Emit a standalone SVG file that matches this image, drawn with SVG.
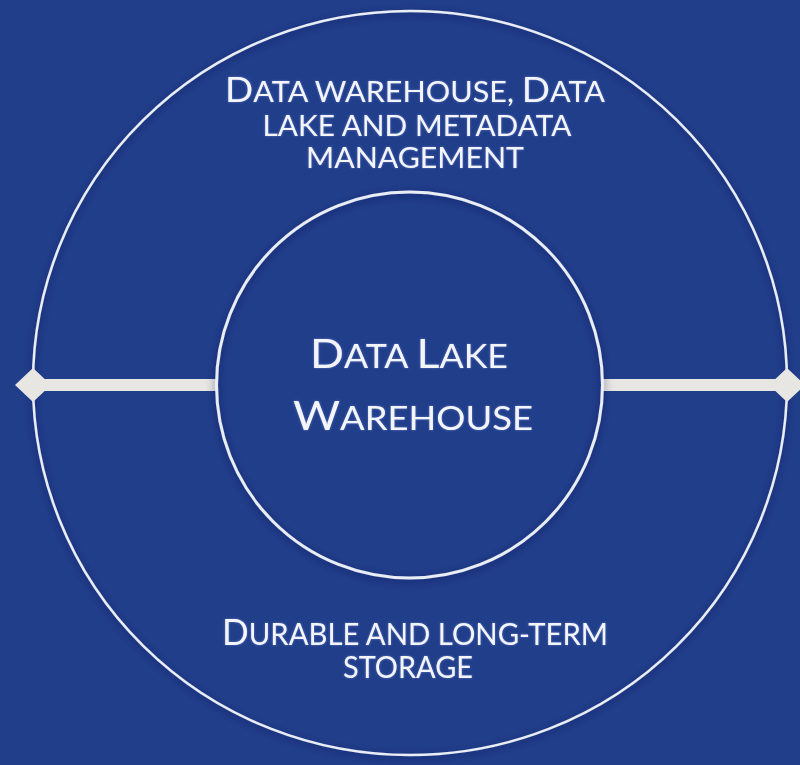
<svg xmlns="http://www.w3.org/2000/svg" width="800" height="765" viewBox="0 0 800 765">
  <style>
    .lbl { font-family: "Lato", "Open Sans", "Liberation Sans", sans-serif; fill: #f3f5fb; text-anchor: middle; }
    .ring { fill: none; stroke: #e9edf6; }
    .bar { fill: #e8e6e3; }
  </style>
  <defs>
    <filter id="shadow" x="-10%" y="-10%" width="120%" height="120%">
      <feGaussianBlur in="SourceAlpha" stdDeviation="4"/>
      <feOffset dx="0" dy="2" result="b"/>
      <feFlood flood-color="#0a1840" flood-opacity="0.6"/>
      <feComposite in2="b" operator="in"/>
      <feMerge><feMergeNode/><feMergeNode in="SourceGraphic"/></feMerge>
    </filter>
    <filter id="glow" x="-5%" y="-20%" width="110%" height="140%">
      <feGaussianBlur in="SourceAlpha" stdDeviation="1.2"/>
      <feFlood flood-color="#9fb6ff" flood-opacity="0.5"/>
      <feComposite operator="in" in2="SourceAlpha"/>
      <feGaussianBlur stdDeviation="1"/>
      <feMerge><feMergeNode/><feMergeNode in="SourceGraphic"/></feMerge>
    </filter>
  </defs>
  <rect x="0" y="0" width="800" height="765" fill="#213e8b"/>

  <g id="outer-ring">
    <ellipse cx="410" cy="383" rx="377" ry="372" class="ring" stroke-width="2.5" filter="url(#shadow)"/>
    <g filter="url(#glow)">
      <text class="lbl" x="415" y="102" textLength="380" lengthAdjust="spacingAndGlyphs"><tspan font-size="34">D</tspan><tspan font-size="28">ATA WAREHOUSE, </tspan><tspan font-size="34">D</tspan><tspan font-size="28">ATA</tspan></text>
      <text class="lbl" x="417" y="136" textLength="309" lengthAdjust="spacingAndGlyphs" font-size="28">LAKE AND METADATA</text>
      <text class="lbl" x="415" y="168" textLength="218" lengthAdjust="spacingAndGlyphs" font-size="28">MANAGEMENT</text>
      <text class="lbl" x="415" y="645" textLength="386" lengthAdjust="spacingAndGlyphs"><tspan font-size="36">D</tspan><tspan font-size="30">URABLE AND LONG-TERM</tspan></text>
      <text class="lbl" x="408" y="678" textLength="130" lengthAdjust="spacingAndGlyphs" font-size="30">STORAGE</text>
    </g>
  </g>

  <g id="connectors">
    <rect class="bar" x="33" y="379" width="184" height="12"/>
    <rect class="bar" x="602" y="379" width="185" height="12"/>
    <polygon class="bar" points="15,385 33,368 51,385 33,402"/>
    <polygon class="bar" points="769,385 787,368 805,385 787,402"/>
  </g>

  <g id="inner-circle">
    <circle cx="409.5" cy="385" r="193" class="ring" stroke-width="3" filter="url(#shadow)"/>
    <g filter="url(#glow)">
      <text class="lbl" x="409" y="368" textLength="198" lengthAdjust="spacingAndGlyphs"><tspan font-size="40">D</tspan><tspan font-size="32">ATA </tspan><tspan font-size="40">L</tspan><tspan font-size="32">AKE</tspan></text>
      <text class="lbl" x="413" y="430" textLength="240" lengthAdjust="spacingAndGlyphs"><tspan font-size="40">W</tspan><tspan font-size="32">AREHOUSE</tspan></text>
    </g>
  </g>
</svg>
